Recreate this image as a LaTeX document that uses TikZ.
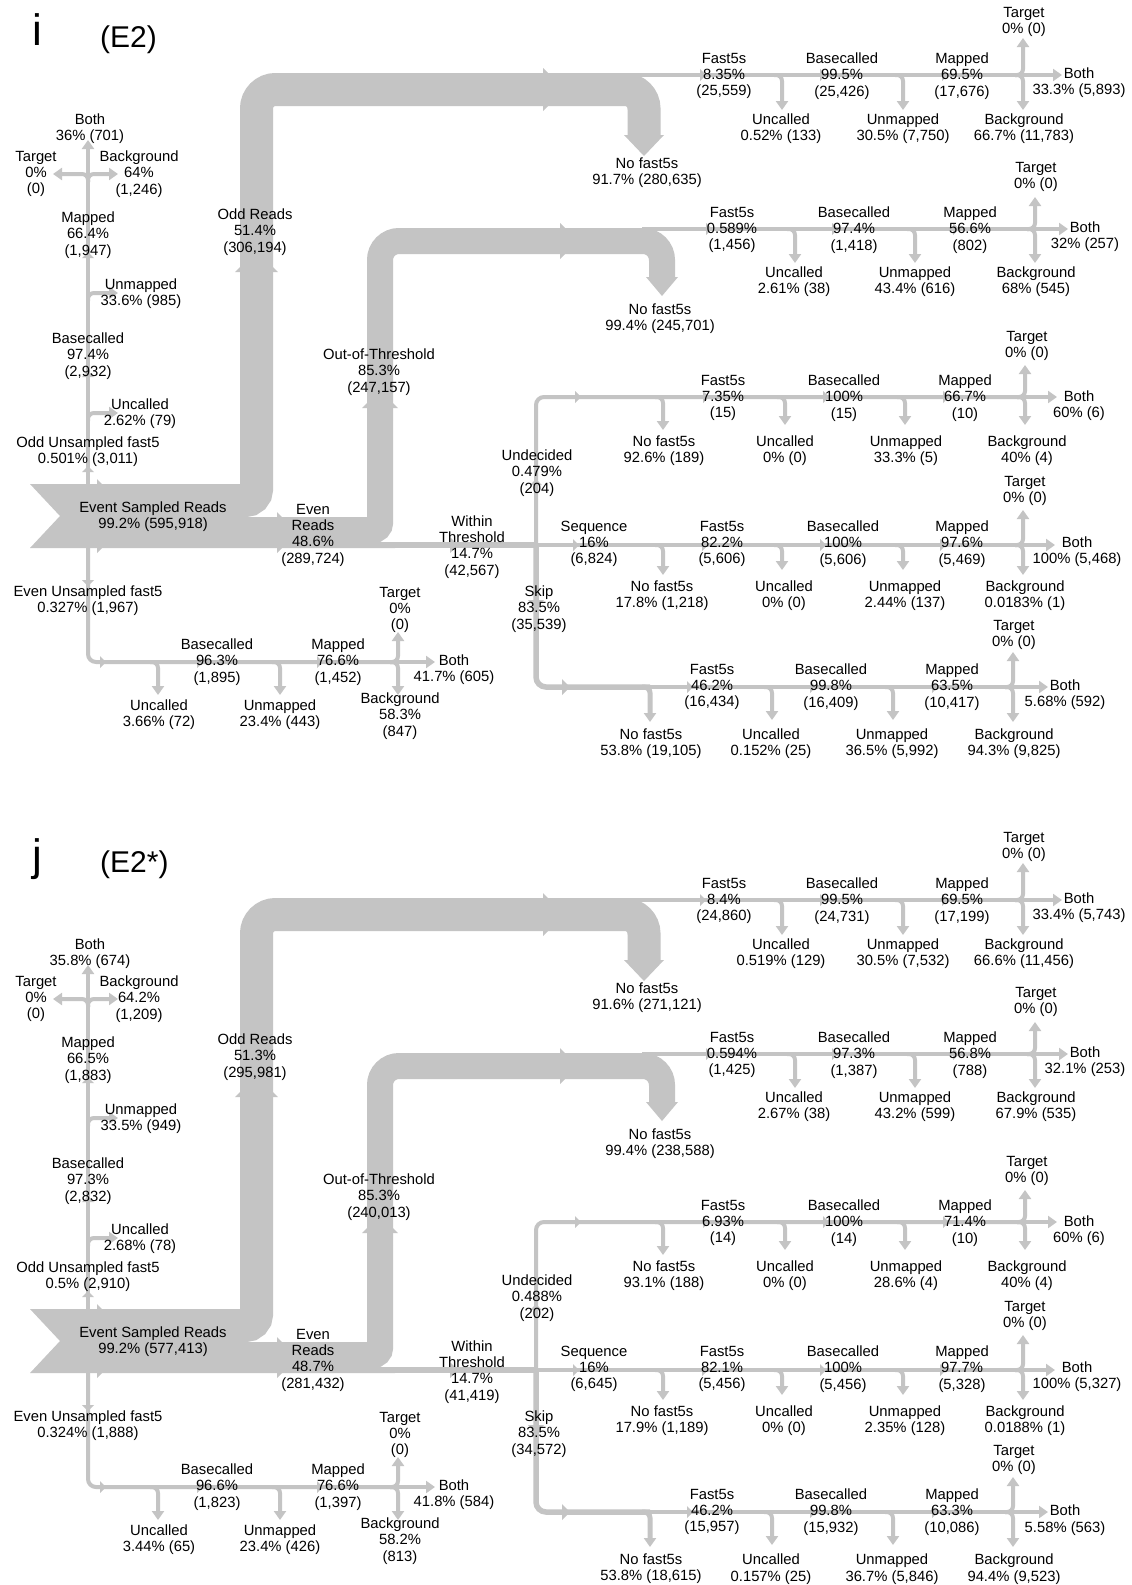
\documentclass[tikz,border=0pt]{standalone}
\usepackage{fontspec}
\setmainfont{Liberation Sans}
\usetikzlibrary{arrows.meta}
\definecolor{flow}{RGB}{196,196,196}

% text store: \deftxt{panel}{key}{text}, read back with \ftx{key}
\makeatletter
\newcommand\deftxt[3]{\expandafter\def\csname ftxt@#1@#2\endcsname{#3}}
\newcommand\ftx[1]{\csname ftxt@\curpanel @#1\endcsname}
\makeatother

\tikzset{
  lbl/.style={font=\fontsize{14.8}{16.3}\selectfont, align=center, inner sep=0pt, yshift=-2pt},
  thinflow/.style={draw=flow, line width=4pt},
  flowtip/.style={-{Triangle[length=9pt,width=12pt]}},
}

% direction marker on a flow: position, angle, half width
\newcommand\fmark[3]{\fill[flow,shift={(#1)},rotate=#2] (0,-#3) -- (#3,0) -- (0,#3) -- cycle;}
% side branch leaving a horizontal flow
\newcommand\hbranch[2]{\draw[thinflow,flowtip,rounded corners=6pt] ([xshift=-8pt]#1) -- (#1) -- (#2);}
% side branch leaving an upward vertical flow
\newcommand\vbranch[2]{\draw[thinflow,flowtip,rounded corners=6pt] ([yshift=-8pt]#1) -- (#1) -- (#2);}

\newcommand\drawpanel{%
  % ---- junctions and end points
  \coordinate (J) at (536,545);
  \coordinate (Lc) at (88,174);   \coordinate (LtU) at (88,140);
  \coordinate (LtL) at (53,174);  \coordinate (LtR) at (118,174);
  \coordinate (Lx1) at (88,293);  \coordinate (Lb1) at (118,293);
  \coordinate (Lx2) at (88,413);  \coordinate (Lb2) at (118,413);
  \coordinate (Mc) at (398,662);  \coordinate (MtU) at (398,632);
  \coordinate (MtD) at (398,695); \coordinate (MtR) at (435,662);
  \coordinate (Mx1) at (158,662); \coordinate (Mb1) at (158,695);
  \coordinate (Mx2) at (280,662); \coordinate (Mb2) at (280,695);
  \coordinate (A0) at (626,75);   \coordinate (Ac) at (1023,75);
  \coordinate (AtU) at (1023,38); \coordinate (AtD) at (1023,110); \coordinate (AtR) at (1062,75);
  \coordinate (Ax1) at (782,75);  \coordinate (Ab1) at (782,110);
  \coordinate (Ax2) at (903,75);  \coordinate (Ab2) at (903,110);
  \coordinate (B0) at (642,229);  \coordinate (Bc) at (1035,229);
  \coordinate (BtU) at (1035,197); \coordinate (BtD) at (1035,263); \coordinate (BtR) at (1068,229);
  \coordinate (Bx1) at (795,229); \coordinate (Bb1) at (795,263);
  \coordinate (Bx2) at (915,229); \coordinate (Bb2) at (915,263);
  \coordinate (Cc) at (1025,397);
  \coordinate (CtU) at (1025,365); \coordinate (CtD) at (1025,425); \coordinate (CtR) at (1057,397);
  \coordinate (Cx0) at (663,397); \coordinate (Cb0) at (663,430);
  \coordinate (Cx1) at (785,397); \coordinate (Cb1) at (785,425);
  \coordinate (Cx2) at (905,397); \coordinate (Cb2) at (905,425);
  \coordinate (Dc) at (1023,545);
  \coordinate (DtU) at (1023,510); \coordinate (DtD) at (1023,575); \coordinate (DtR) at (1055,545);
  \coordinate (Dx0) at (663,545); \coordinate (Db0) at (663,575);
  \coordinate (Dx1) at (782,545); \coordinate (Db1) at (782,570);
  \coordinate (Dx2) at (903,545); \coordinate (Db2) at (903,570);
  \coordinate (Ec) at (1013,687);
  \coordinate (EtU) at (1013,652); \coordinate (EtD) at (1013,722); \coordinate (EtR) at (1048,687);
  \coordinate (Ex0) at (650,687); \coordinate (Eb0) at (650,722);
  \coordinate (Ex1) at (772,687); \coordinate (Eb1) at (772,720);
  \coordinate (Ex2) at (893,687); \coordinate (Eb2) at (893,720);
  % ---- wide bands
  \fill[flow] (30,484) -- (60,516) -- (30,548) -- (395,548) -- (395,542) -- (200,542) -- (200,484) -- cycle;
  \draw[flow,line width=33pt,rounded corners=11pt] (190,500.5) -- (256.5,500.5) -- (256.5,300);
  \draw[flow,line width=33pt,rounded corners=19pt] (256.5,300) -- (256.5,89.5) -- (644,89.5) -- (644,136);
  \draw[flow,line width=26pt,rounded corners=7pt] (190,530) -- (380,530) -- (380,420);
  \draw[flow,line width=26pt,rounded corners=19pt] (380,420) -- (380,241) -- (662,241) -- (662,278);
  \fill[flow] (624,135) -- (664,135) -- (644,156) -- cycle;
  \fill[flow] (646,277) -- (678,277) -- (662,296) -- cycle;
  \draw[flow,line width=6pt] (390,545) -- (J);
  % ---- left column (unsampled reads)
  \draw[thinflow,flowtip] (88,484) -- (LtU);
  \vbranch{Lc}{LtL} \vbranch{Lc}{LtR}
  \vbranch{Lx1}{Lb1} \vbranch{Lx2}{Lb2}
  \draw[thinflow,rounded corners=8pt] (88,548) -- (88,662) -- (Mc);
  \hbranch{Mx1}{Mb1} \hbranch{Mx2}{Mb2}
  \hbranch{Mc}{MtU} \hbranch{Mc}{MtD}
  \draw[thinflow,flowtip] (Mc) -- (MtR);
  % ---- fast5 chains on the right
  \draw[thinflow] (A0) -- (Ac);
  \hbranch{Ax1}{Ab1} \hbranch{Ax2}{Ab2} \hbranch{Ac}{AtU} \hbranch{Ac}{AtD}
  \draw[thinflow,flowtip] (Ac) -- (AtR);
  \draw[thinflow] (B0) -- (Bc);
  \hbranch{Bx1}{Bb1} \hbranch{Bx2}{Bb2} \hbranch{Bc}{BtU} \hbranch{Bc}{BtD}
  \draw[thinflow,flowtip] (Bc) -- (BtR);
  \draw[thinflow,rounded corners=8pt] (J) -- (536,397) -- (Cc);
  \hbranch{Cx0}{Cb0} \hbranch{Cx1}{Cb1} \hbranch{Cx2}{Cb2} \hbranch{Cc}{CtU} \hbranch{Cc}{CtD}
  \draw[thinflow,flowtip] (Cc) -- (CtR);
  \draw[thinflow] (J) -- (Dc);
  \hbranch{Dx0}{Db0} \hbranch{Dx1}{Db1} \hbranch{Dx2}{Db2} \hbranch{Dc}{DtU} \hbranch{Dc}{DtD}
  \draw[thinflow,flowtip] (Dc) -- (DtR);
  \draw[flow,line width=5.5pt,rounded corners=10pt] (J) -- (536,687) -- (Ex0);
  \draw[flow,line width=5pt,flowtip,rounded corners=6pt] ([xshift=-8pt]Ex0) -- (Ex0) -- (Eb0);
  \draw[thinflow] (Ex0) -- (Ec);
  \hbranch{Ex1}{Eb1} \hbranch{Ex2}{Eb2} \hbranch{Ec}{EtU} \hbranch{Ec}{EtD}
  \draw[thinflow,flowtip] (Ec) -- (EtR);
  % ---- direction markers
  \fmark{97,516}{0}{37}
  \fmark{256.5,272}{90}{21.5}
  \fmark{543,89.5}{0}{21.5}
  \fmark{277,532.5}{0}{20.5}
  \fmark{380,408}{90}{18}
  \fmark{560,241}{0}{18}
  \foreach \p/\a in {{88,472}/90,{88,377}/90,{88,258}/90,{88,580}/-90,{100,662}/0,{197,662}/0,{317,662}/0,
      {700,75}/0,{820,75}/0,{942,75}/0,{706,229}/0,{832,229}/0,{953,229}/0,
      {536,485}/90,{575,397}/0,{703,397}/0,{823,397}/0,{943,397}/0,
      {573,545}/0,{702,545}/0,{820,545}/0,{940,545}/0,
      {687,687}/0,{810,687}/0,{932,687}/0}
    {\fmark{\p}{\a}{6}}
  \fmark{450,545}{0}{8}
  \fmark{536,600}{-90}{8}
  \fmark{562,687}{0}{8}
  % ---- panel title
  \node[font=\fontsize{44}{44}\selectfont, anchor=base, inner sep=0pt] (letter) at (37,45) {\ftx{letter}};
  \node[font=\fontsize{30}{30}\selectfont, anchor=base west, inner sep=0pt] (tag) at (100,47) {\ftx{title}};
  % ---- labels
  \foreach \k/\x/\y in {lTarget/36/172,lBoth/90/127,lBack/139/172,lMapped/88/233,lUnmapped/141/292,
      lBase/88/354,lUncalled/140/412,oddUns/88/450,oddReads/255/230,outThr/379/370,event/153/514.5,
      even/313/533,within/472/545,undec/537/471,seq/594/542,skip/539/607,evenUns/88/599,
      mBase/217/660,mMapped/338/660,mTarget/400/608,mBoth/454/668,mBack/400/714,mUncalled/159/712.5,mUnmapped/280/712.5,
      aFast/724/74,aBase/842/74,aMapped/962/74,aTarget/1024/20,aBoth/1079/81,aUncalled/781/127,aUnmapped/903/127,aBack/1024/127,aNo/647/171,
      bFast/732/228,bBase/854/228,bMapped/970/228,bTarget/1036/175,bBoth/1085/235,bUncalled/794/280,bUnmapped/915/280,bBack/1036/280,bNo/660/317,
      cFast/723/396,cBase/844/396,cMapped/965/396,cTarget/1027/344,cBoth/1079/404,cNo/664/449,cUncalled/785/449,cUnmapped/906/449,cBack/1027/449,
      dFast/722/542,dBase/843/542,dMapped/962/542,dTarget/1025/489,dBoth/1077/550,dNo/662/594,dUncalled/784/594,dUnmapped/905/594,dBack/1025/594,
      eFast/712/685,eBase/831/685,eMapped/952/685,eTarget/1014/633,eBoth/1065/693,eNo/651/742,eUncalled/771/742,eUnmapped/892/742,eBack/1014/742}
    {\node[lbl] (\k) at (\x,\y) {\ftx{\k}};}
}

% ---------- texts, panel i
\deftxt{i}{letter}{i}\deftxt{i}{title}{(E2)}
\deftxt{i}{lTarget}{Target\\0\%\\(0)}
\deftxt{i}{lBoth}{Both\\36\% (701)}
\deftxt{i}{lBack}{Background\\64\%\\(1,246)}
\deftxt{i}{lMapped}{Mapped\\66.4\%\\(1,947)}
\deftxt{i}{lUnmapped}{Unmapped\\33.6\% (985)}
\deftxt{i}{lBase}{Basecalled\\97.4\%\\(2,932)}
\deftxt{i}{lUncalled}{Uncalled\\2.62\% (79)}
\deftxt{i}{oddUns}{Odd Unsampled fast5\\0.501\% (3,011)}
\deftxt{i}{oddReads}{Odd Reads\\51.4\%\\(306,194)}
\deftxt{i}{outThr}{Out-of-Threshold\\85.3\%\\(247,157)}
\deftxt{i}{event}{Event Sampled Reads\\99.2\% (595,918)}
\deftxt{i}{even}{Even\\Reads\\48.6\%\\(289,724)}
\deftxt{i}{within}{Within\\Threshold\\14.7\%\\(42,567)}
\deftxt{i}{undec}{Undecided\\0.479\%\\(204)}
\deftxt{i}{seq}{Sequence\\16\%\\(6,824)}
\deftxt{i}{skip}{Skip\\83.5\%\\(35,539)}
\deftxt{i}{evenUns}{Even Unsampled fast5\\0.327\% (1,967)}
\deftxt{i}{mBase}{Basecalled\\96.3\%\\(1,895)}
\deftxt{i}{mMapped}{Mapped\\76.6\%\\(1,452)}
\deftxt{i}{mTarget}{Target\\0\%\\(0)}
\deftxt{i}{mBoth}{Both\\41.7\% (605)}
\deftxt{i}{mBack}{Background\\58.3\%\\(847)}
\deftxt{i}{mUncalled}{Uncalled\\3.66\% (72)}
\deftxt{i}{mUnmapped}{Unmapped\\23.4\% (443)}
\deftxt{i}{aFast}{Fast5s\\8.35\%\\(25,559)}
\deftxt{i}{aBase}{Basecalled\\99.5\%\\(25,426)}
\deftxt{i}{aMapped}{Mapped\\69.5\%\\(17,676)}
\deftxt{i}{aTarget}{Target\\0\% (0)}
\deftxt{i}{aBoth}{Both\\33.3\% (5,893)}
\deftxt{i}{aUncalled}{Uncalled\\0.52\% (133)}
\deftxt{i}{aUnmapped}{Unmapped\\30.5\% (7,750)}
\deftxt{i}{aBack}{Background\\66.7\% (11,783)}
\deftxt{i}{aNo}{No fast5s\\91.7\% (280,635)}
\deftxt{i}{bFast}{Fast5s\\0.589\%\\(1,456)}
\deftxt{i}{bBase}{Basecalled\\97.4\%\\(1,418)}
\deftxt{i}{bMapped}{Mapped\\56.6\%\\(802)}
\deftxt{i}{bTarget}{Target\\0\% (0)}
\deftxt{i}{bBoth}{Both\\32\% (257)}
\deftxt{i}{bUncalled}{Uncalled\\2.61\% (38)}
\deftxt{i}{bUnmapped}{Unmapped\\43.4\% (616)}
\deftxt{i}{bBack}{Background\\68\% (545)}
\deftxt{i}{bNo}{No fast5s\\99.4\% (245,701)}
\deftxt{i}{cNo}{No fast5s\\92.6\% (189)}
\deftxt{i}{cFast}{Fast5s\\7.35\%\\(15)}
\deftxt{i}{cUncalled}{Uncalled\\0\% (0)}
\deftxt{i}{cBase}{Basecalled\\100\%\\(15)}
\deftxt{i}{cUnmapped}{Unmapped\\33.3\% (5)}
\deftxt{i}{cMapped}{Mapped\\66.7\%\\(10)}
\deftxt{i}{cTarget}{Target\\0\% (0)}
\deftxt{i}{cBoth}{Both\\60\% (6)}
\deftxt{i}{cBack}{Background\\40\% (4)}
\deftxt{i}{dNo}{No fast5s\\17.8\% (1,218)}
\deftxt{i}{dFast}{Fast5s\\82.2\%\\(5,606)}
\deftxt{i}{dUncalled}{Uncalled\\0\% (0)}
\deftxt{i}{dBase}{Basecalled\\100\%\\(5,606)}
\deftxt{i}{dUnmapped}{Unmapped\\2.44\% (137)}
\deftxt{i}{dMapped}{Mapped\\97.6\%\\(5,469)}
\deftxt{i}{dTarget}{Target\\0\% (0)}
\deftxt{i}{dBoth}{Both\\100\% (5,468)}
\deftxt{i}{dBack}{Background\\0.0183\% (1)}
\deftxt{i}{eFast}{Fast5s\\46.2\%\\(16,434)}
\deftxt{i}{eNo}{No fast5s\\53.8\% (19,105)}
\deftxt{i}{eUncalled}{Uncalled\\0.152\% (25)}
\deftxt{i}{eBase}{Basecalled\\99.8\%\\(16,409)}
\deftxt{i}{eUnmapped}{Unmapped\\36.5\% (5,992)}
\deftxt{i}{eMapped}{Mapped\\63.5\%\\(10,417)}
\deftxt{i}{eTarget}{Target\\0\% (0)}
\deftxt{i}{eBoth}{Both\\5.68\% (592)}
\deftxt{i}{eBack}{Background\\94.3\% (9,825)}

% ---------- texts, panel j
\deftxt{j}{letter}{j}\deftxt{j}{title}{(E2*)}
\deftxt{j}{lTarget}{Target\\0\%\\(0)}
\deftxt{j}{lBoth}{Both\\35.8\% (674)}
\deftxt{j}{lBack}{Background\\64.2\%\\(1,209)}
\deftxt{j}{lMapped}{Mapped\\66.5\%\\(1,883)}
\deftxt{j}{lUnmapped}{Unmapped\\33.5\% (949)}
\deftxt{j}{lBase}{Basecalled\\97.3\%\\(2,832)}
\deftxt{j}{lUncalled}{Uncalled\\2.68\% (78)}
\deftxt{j}{oddUns}{Odd Unsampled fast5\\0.5\% (2,910)}
\deftxt{j}{oddReads}{Odd Reads\\51.3\%\\(295,981)}
\deftxt{j}{outThr}{Out-of-Threshold\\85.3\%\\(240,013)}
\deftxt{j}{event}{Event Sampled Reads\\99.2\% (577,413)}
\deftxt{j}{even}{Even\\Reads\\48.7\%\\(281,432)}
\deftxt{j}{within}{Within\\Threshold\\14.7\%\\(41,419)}
\deftxt{j}{undec}{Undecided\\0.488\%\\(202)}
\deftxt{j}{seq}{Sequence\\16\%\\(6,645)}
\deftxt{j}{skip}{Skip\\83.5\%\\(34,572)}
\deftxt{j}{evenUns}{Even Unsampled fast5\\0.324\% (1,888)}
\deftxt{j}{mBase}{Basecalled\\96.6\%\\(1,823)}
\deftxt{j}{mMapped}{Mapped\\76.6\%\\(1,397)}
\deftxt{j}{mTarget}{Target\\0\%\\(0)}
\deftxt{j}{mBoth}{Both\\41.8\% (584)}
\deftxt{j}{mBack}{Background\\58.2\%\\(813)}
\deftxt{j}{mUncalled}{Uncalled\\3.44\% (65)}
\deftxt{j}{mUnmapped}{Unmapped\\23.4\% (426)}
\deftxt{j}{aFast}{Fast5s\\8.4\%\\(24,860)}
\deftxt{j}{aBase}{Basecalled\\99.5\%\\(24,731)}
\deftxt{j}{aMapped}{Mapped\\69.5\%\\(17,199)}
\deftxt{j}{aTarget}{Target\\0\% (0)}
\deftxt{j}{aBoth}{Both\\33.4\% (5,743)}
\deftxt{j}{aUncalled}{Uncalled\\0.519\% (129)}
\deftxt{j}{aUnmapped}{Unmapped\\30.5\% (7,532)}
\deftxt{j}{aBack}{Background\\66.6\% (11,456)}
\deftxt{j}{aNo}{No fast5s\\91.6\% (271,121)}
\deftxt{j}{bFast}{Fast5s\\0.594\%\\(1,425)}
\deftxt{j}{bBase}{Basecalled\\97.3\%\\(1,387)}
\deftxt{j}{bMapped}{Mapped\\56.8\%\\(788)}
\deftxt{j}{bTarget}{Target\\0\% (0)}
\deftxt{j}{bBoth}{Both\\32.1\% (253)}
\deftxt{j}{bUncalled}{Uncalled\\2.67\% (38)}
\deftxt{j}{bUnmapped}{Unmapped\\43.2\% (599)}
\deftxt{j}{bBack}{Background\\67.9\% (535)}
\deftxt{j}{bNo}{No fast5s\\99.4\% (238,588)}
\deftxt{j}{cNo}{No fast5s\\93.1\% (188)}
\deftxt{j}{cFast}{Fast5s\\6.93\%\\(14)}
\deftxt{j}{cUncalled}{Uncalled\\0\% (0)}
\deftxt{j}{cBase}{Basecalled\\100\%\\(14)}
\deftxt{j}{cUnmapped}{Unmapped\\28.6\% (4)}
\deftxt{j}{cMapped}{Mapped\\71.4\%\\(10)}
\deftxt{j}{cTarget}{Target\\0\% (0)}
\deftxt{j}{cBoth}{Both\\60\% (6)}
\deftxt{j}{cBack}{Background\\40\% (4)}
\deftxt{j}{dNo}{No fast5s\\17.9\% (1,189)}
\deftxt{j}{dFast}{Fast5s\\82.1\%\\(5,456)}
\deftxt{j}{dUncalled}{Uncalled\\0\% (0)}
\deftxt{j}{dBase}{Basecalled\\100\%\\(5,456)}
\deftxt{j}{dUnmapped}{Unmapped\\2.35\% (128)}
\deftxt{j}{dMapped}{Mapped\\97.7\%\\(5,328)}
\deftxt{j}{dTarget}{Target\\0\% (0)}
\deftxt{j}{dBoth}{Both\\100\% (5,327)}
\deftxt{j}{dBack}{Background\\0.0188\% (1)}
\deftxt{j}{eFast}{Fast5s\\46.2\%\\(15,957)}
\deftxt{j}{eNo}{No fast5s\\53.8\% (18,615)}
\deftxt{j}{eUncalled}{Uncalled\\0.157\% (25)}
\deftxt{j}{eBase}{Basecalled\\99.8\%\\(15,932)}
\deftxt{j}{eUnmapped}{Unmapped\\36.7\% (5,846)}
\deftxt{j}{eMapped}{Mapped\\63.3\%\\(10,086)}
\deftxt{j}{eTarget}{Target\\0\% (0)}
\deftxt{j}{eBoth}{Both\\5.58\% (563)}
\deftxt{j}{eBack}{Background\\94.4\% (9,523)}

\begin{document}
\begin{tikzpicture}[x=1pt,y=-1pt]
  \useasboundingbox (0,0) rectangle (1132,1585);
  \fill[white] (0,0) rectangle (1132,1585);
  \def\curpanel{i}
  \begin{scope}[name prefix=i-]
    \drawpanel
  \end{scope}
  \def\curpanel{j}
  \begin{scope}[shift={(0,825)},name prefix=j-]
    \drawpanel
  \end{scope}
\end{tikzpicture}
\end{document}
